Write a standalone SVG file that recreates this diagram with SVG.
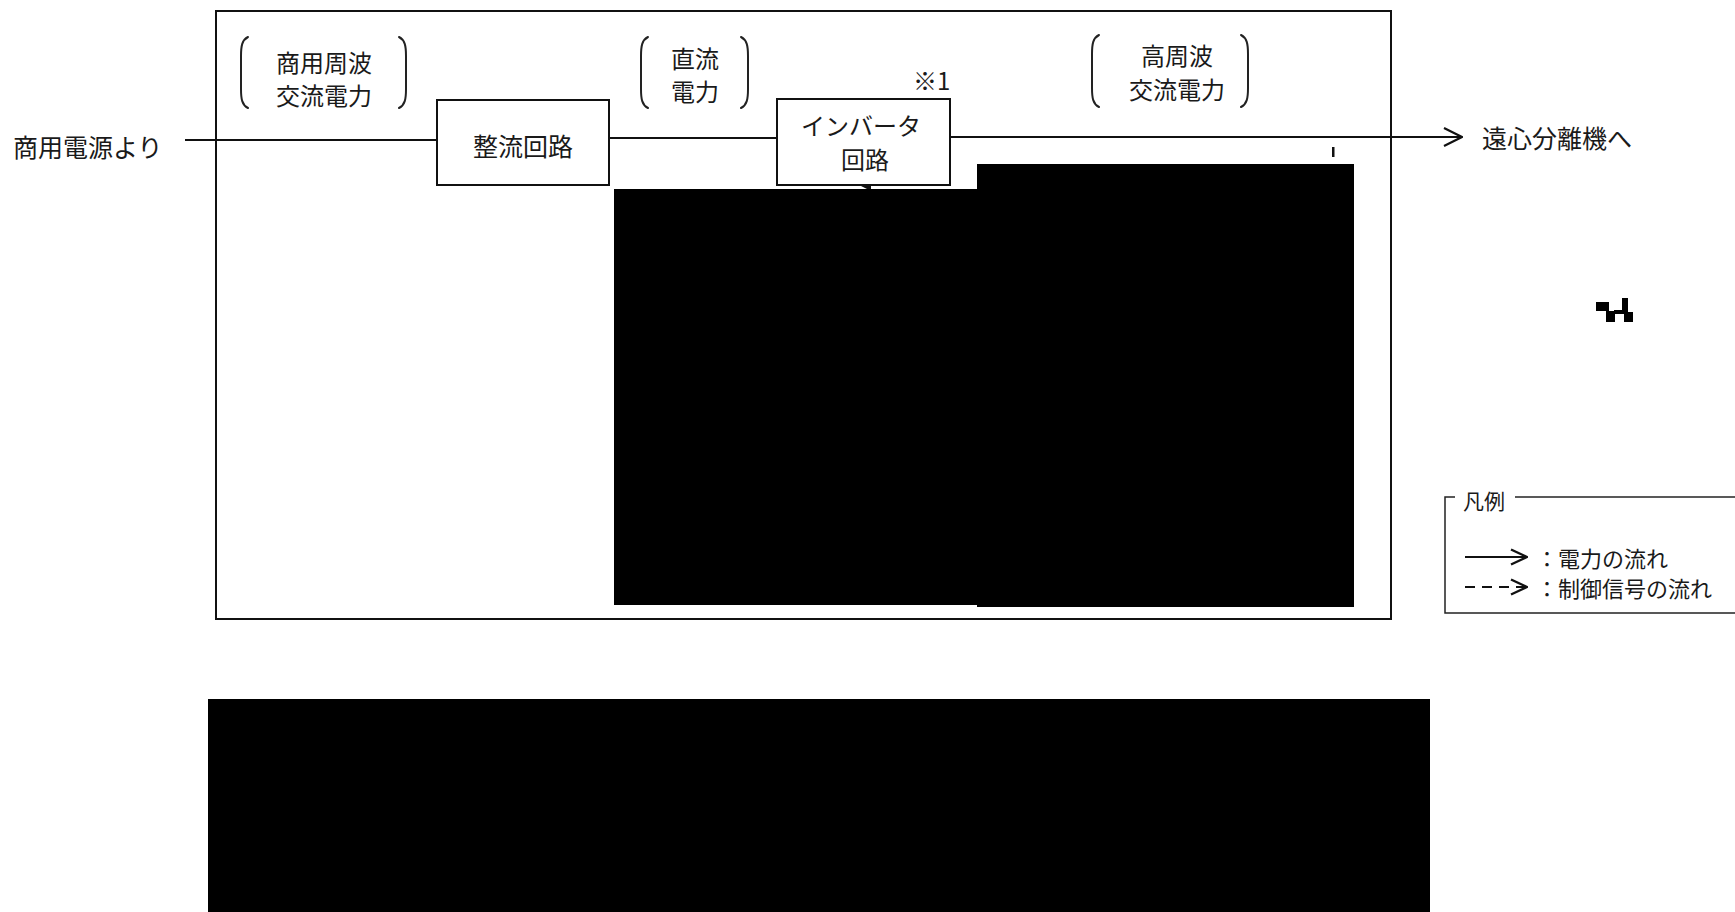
<svg xmlns="http://www.w3.org/2000/svg" width="1735" height="912" viewBox="0 0 1735 912">
  <defs>
    <style>
      .t { font-family: "Noto Sans CJK JP", "Noto Sans CJK SC", sans-serif; fill: #1a1a1a; dominant-baseline: central; }
      .big { font-size: 24px; }
      .leg { font-size: 22px; }
      .box { fill: #ffffff; stroke: #111; stroke-width: 2; }
      .ln { fill: none; stroke: #111; stroke-width: 2; }
      .thin { fill: none; stroke: #222; stroke-width: 1.5; }
      .brk { fill: none; stroke: #222; stroke-width: 2; stroke-linecap: round; }
      .red { fill: #000; }
    </style>
    <marker id="openArrow" viewBox="0 0 20 20" refX="19" refY="10" markerWidth="20" markerHeight="20" markerUnits="userSpaceOnUse" orient="auto">
      <path d="M1,1 L19,10 L1,19" fill="none" stroke="#111" stroke-width="2.2"/>
    </marker>
    <marker id="legArrow" viewBox="0 0 18 18" refX="17" refY="9" markerWidth="18" markerHeight="18" markerUnits="userSpaceOnUse" orient="auto">
      <path d="M1,1.5 L17,9 L1,16.5" fill="none" stroke="#111" stroke-width="2.4"/>
    </marker>
    <marker id="upTip" viewBox="0 0 12 12" refX="6" refY="1" markerWidth="12" markerHeight="12" markerUnits="userSpaceOnUse" orient="auto-start-reverse">
      <path d="M6,1 L11,11 L1,11 Z" fill="#111"/>
    </marker>
  </defs>

  <!-- outer frame -->
  <g id="frame">
    <rect x="216" y="11" width="1175" height="608" fill="none" stroke="#111" stroke-width="2"/>
  </g>

  <!-- connectors -->
  <g id="connectors">
    <line class="ln" x1="185" y1="140" x2="437" y2="140"/>
    <line class="ln" x1="609" y1="138" x2="777" y2="138"/>
    <line class="ln" x1="950" y1="137" x2="1462" y2="137" marker-end="url(#openArrow)"/>
    <line class="ln" x1="861" y1="200" x2="861" y2="186" stroke-dasharray="8 6" marker-end="url(#upTip)"/>
  </g>

  <!-- source label -->
  <g id="source">
    <text class="t" font-size="25" x="13" y="146">商用電源より</text>
  </g>

  <!-- rectifier -->
  <g id="rectifier">
    <rect class="box" x="437" y="100" width="172" height="85"/>
    <text class="t" font-size="25" x="523" y="145" text-anchor="middle">整流回路</text>
  </g>

  <!-- inverter -->
  <g id="inverter">
    <rect class="box" x="777" y="99" width="173" height="86"/>
    <text class="t big" x="861" y="124" text-anchor="middle">インバータ</text>
    <text class="t big" x="865" y="158" text-anchor="middle">回路</text>
  </g>

  <g id="note1">
    <text class="t big" x="913" y="79" font-family="Liberation Serif, Noto Sans CJK JP, serif">※1</text>
  </g>

  <!-- bracketed labels -->
  <g id="label-commercial-ac">
    <path class="brk" d="M248,37 C242,40 241,46 241,56 L241,89 C241,99 242,105 248,108"/>
    <path class="brk" d="M399,37 C405,40 406,46 406,56 L406,89 C406,99 405,105 399,108"/>
    <text class="t big" x="324" y="61" text-anchor="middle">商用周波</text>
    <text class="t big" x="324" y="94" text-anchor="middle">交流電力</text>
  </g>

  <g id="label-dc">
    <path class="brk" d="M648,37 C642,40 641,46 641,56 L641,89 C641,99 642,105 648,108"/>
    <path class="brk" d="M741,37 C747,40 748,46 748,56 L748,89 C748,99 747,105 741,108"/>
    <text class="t big" x="695" y="57" text-anchor="middle">直流</text>
    <text class="t big" x="695" y="90" text-anchor="middle">電力</text>
  </g>

  <g id="label-hf-ac">
    <path class="brk" d="M1099,35 C1093,38 1092,44 1092,54 L1092,88 C1092,98 1093,104 1099,107"/>
    <path class="brk" d="M1241,35 C1247,38 1248,44 1248,54 L1248,88 C1248,98 1247,104 1241,107"/>
    <text class="t big" x="1177" y="54" text-anchor="middle">高周波</text>
    <text class="t big" x="1177" y="88" text-anchor="middle">交流電力</text>
  </g>

  <!-- destination -->
  <g id="destination">
    <text class="t" font-size="25" x="1482" y="137">遠心分離機へ</text>
  </g>

  <g id="tick">
    <rect x="1332" y="147" width="2.5" height="10" fill="#111"/>
  </g>

  <!-- redacted areas -->
  <g id="redactions">
    <rect class="red" x="614" y="189" width="363" height="416"/>
    <rect class="red" x="977" y="164" width="377" height="443"/>
    <rect class="red" x="208" y="699" width="1222" height="213"/>
    <rect class="red" x="1596" y="302" width="13" height="9"/>
    <rect class="red" x="1606" y="311" width="9" height="11"/>
    <rect class="red" x="1622" y="298" width="6" height="15"/>
    <rect class="red" x="1614" y="310" width="10" height="4"/>
    <rect class="red" x="1624" y="312" width="9" height="10"/>
  </g>

  <!-- legend -->
  <g id="legend">
    <polyline class="thin" points="1455,497 1445,497 1445,613 1740,613"/>
    <line class="thin" x1="1515" y1="497" x2="1740" y2="497"/>
    <text class="t" font-size="21" x="1463" y="500">凡例</text>
    <line class="ln" x1="1465" y1="557" x2="1527" y2="557" marker-end="url(#legArrow)"/>
    <text class="t leg" x="1536" y="557">：電力の流れ</text>
    <line class="ln" x1="1465" y1="587" x2="1527" y2="587" stroke-dasharray="10 7" marker-end="url(#legArrow)"/>
    <text class="t leg" x="1536" y="587">：制御信号の流れ</text>
  </g>
</svg>
